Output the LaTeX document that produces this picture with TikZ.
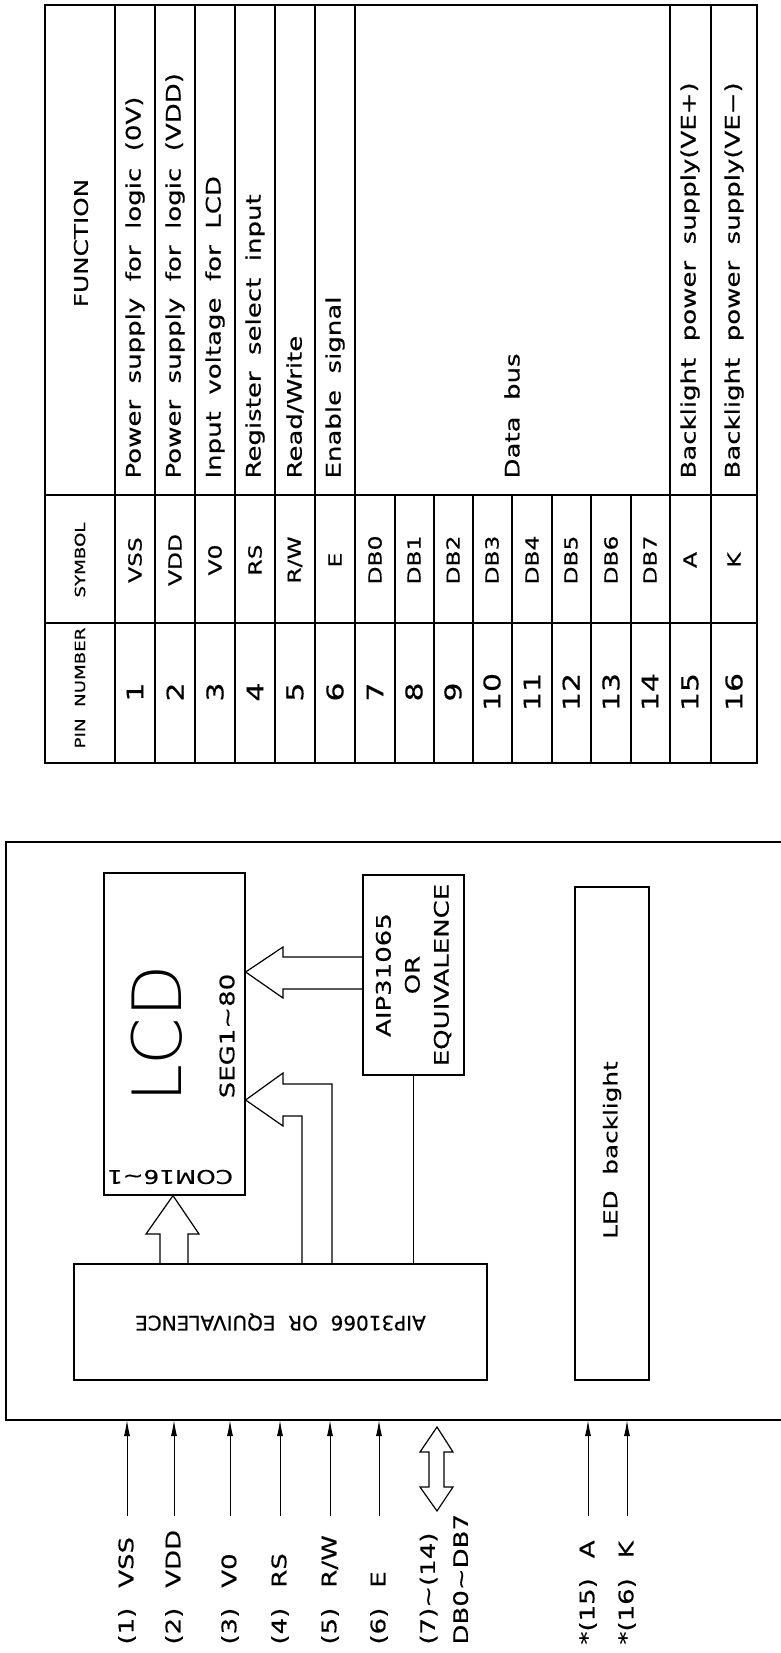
\documentclass[tikz,border=0pt]{standalone}
\usepackage{fontspec}
\newfontfamily\cad{DejaVu Sans}[FakeStretch=1.3,WordSpace=2,FakeBold=0.4]
\newfontfamily\cadn{DejaVu Sans}[WordSpace=2,FakeBold=0.4]
\newfontfamily\thin{DejaVuSans-ExtraLight}[Extension=.ttf]
\usetikzlibrary{arrows.meta}
\newcommand{\fs}[2]{\fontsize{#1}{#2}\selectfont}
\newcommand{\gp}{\hspace{20pt}}
\newcommand{\wave}{\textasciitilde}

\begin{document}
\begin{tikzpicture}[x=1pt,y=-1pt,line width=1pt,
    every node/.style={inner sep=0pt,font=\cad},
    box/.style={draw,line width=1.2pt},
    vtext/.style={rotate=90,font=\cad\fs{20}{24}},
    small/.style={rotate=90,font=\cad\fs{14}{16}},
    lbl/.style={rotate=90,anchor=west,font=\cad\fs{20}{33},align=left},
    pinarr/.style={-{Latex[length=16pt,width=6pt]},line width=1pt}]
  \useasboundingbox (0,0) rectangle (781,1653);
  % pin table
  \draw[box] (45,5) rectangle (757,763);
  \draw[box] (45,495) -- (757,495) (45,623) -- (757,623);
  \foreach \s in {115,155,195,235,275,315,355,670,711}
    \draw[box] (\s,5) -- (\s,763);
  \foreach \s in {395,434,473,512,552,591,631}
    \draw[box] (\s,495) -- (\s,763);
  \node[vtext,font=\cad\fs{19}{24}] (hfun) at (81,243) {FUNCTION};
  \node[small] (hsym) at (80,560) {SYMBOL};
  \node[small] (hpin) at (80,688) {PIN NUMBER};
  \foreach \c/\s [count=\i] in {135/VSS,175/VDD,215/V0,255/RS,295/{R/W},335/E,
      375/DB0,414/DB1,453/DB2,492/DB3,532/DB4,571/DB5,611/DB6,650/DB7,690/A,734/K}{
    \node[vtext,font=\cad\fs{18}{20}] (sym\i) at (\c,560) {\s};
    \node[vtext,font=\cad\fs{23}{26}] (pin\i) at (\c,692) {\i};}
  \foreach \c/\f [count=\i] in {135/{Power supply for logic (0V)},
      175/{Power supply for logic (VDD)},215/{Input voltage for LCD},
      255/{Register select input},295/{Read/Write},335/{Enable signal},
      512/{Data bus},690/{Backlight power supply(VE+)},
      734/{Backlight power supply(VE−)}}
    \node[vtext,anchor=west] (fun\i) at (\c,479) {\f};

  % module
  \draw[box] (781,842) -- (6,842) -- (6,1420) -- (781,1420);
  \coordinate (fb) at (0,1420);
  \coordinate (tl) at (0,1516);
  \node[box,minimum width=141pt,minimum height=322pt] (lcd) at (174.5,1034) {};
  \node[rotate=90,font=\thin\fs{68}{68}] (lcdt) at (157,1034) {LCD};
  \node[vtext] (seg) at (227,1036) {SEG1\wave80};
  \node[rotate=180,font=\cad\fs{19}{20}] (com) at (170,1177) {COM16\wave1};
  \node[box,minimum width=101pt,minimum height=200pt] (segdrv) at (413.5,975) {};
  \node[vtext,align=center,font=\cad\fs{20}{29}] (segtxt) at (segdrv) {AIP31065\\OR\\EQUIVALENCE};
  \node[box,minimum width=413pt,minimum height=116pt] (comdrv) at (280.5,1322) {};
  \node[rotate=180,font=\cadn\fs{20}{22}] (comtxt) at (comdrv) {AIP31066 OR EQUIVALENCE};
  \node[box,minimum width=74pt,minimum height=493pt] (led) at (612,1133.5) {};
  \node[vtext,font=\cad\fs{19}{24}] (ledtxt) at (612,1150) {LED backlight};

  % bus arrows
  \draw[box] (160,0 |- comdrv.north) -- (160,1234) -- (146,1234) -- (lcd.south -| 173,0)
    -- (199,1234) -- (188,1234) -- (188,0 |- comdrv.north);
  \draw[box] (segdrv.west |- 0,957) -- (283,957) -- (283,947) -- (lcd.east |- 0,972)
    -- (283,998) -- (283,989) -- (segdrv.west |- 0,989);
  \draw[box] (302,0 |- comdrv.north) -- (302,1116) -- (283,1116) -- (283,1126)
    -- (lcd.east |- 0,1100) -- (283,1073) -- (283,1084) -- (332,1084) -- (332,0 |- comdrv.north);
  \draw[box] (segdrv.south) -- (segdrv.south |- comdrv.north);

  % pins
  \node[lbl] (in1) at (127,1645) {(1)\gp VSS};
  \node[lbl] (in2) at (174,1645) {(2)\gp VDD};
  \node[lbl] (in3) at (230,1645) {(3)\gp V0};
  \node[lbl] (in4) at (280,1645) {(4)\gp RS};
  \node[lbl] (in5) at (330,1645) {(5)\gp R/W};
  \node[lbl] (in6) at (379,1645) {(6)\gp E};
  \node[lbl] (in7) at (444,1645) {(7)\wave(14)\\DB0\wave DB7};
  \node[lbl] (in15) at (588,1645) {*(15)\gp A};
  \node[lbl] (in16) at (627,1645) {*(16)\gp K};
  \foreach \n in {in1,in2,in3,in4,in5,in6,in15,in16}
    \draw[pinarr] (\n |- tl) -- (\n |- fb);
  \draw[box] (437,1427) -- (453,1452) -- (444,1452) -- (444,1487) -- (453,1487)
    -- (437,1511) -- (420,1487) -- (429,1487) -- (429,1452) -- (420,1452) -- cycle;
\end{tikzpicture}
\end{document}
